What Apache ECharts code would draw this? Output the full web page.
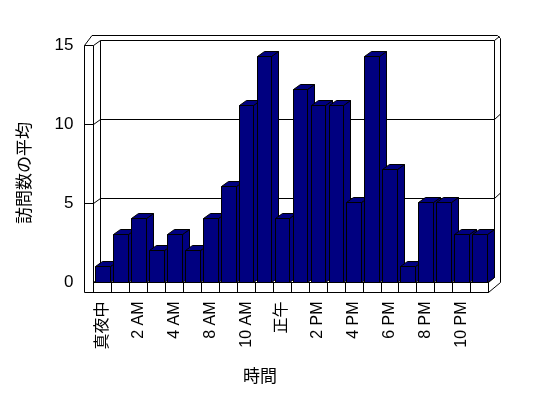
<!DOCTYPE html>
<html>
<head>
<meta charset="utf-8">
<script src="https://cdn.jsdelivr.net/npm/echarts@6/dist/echarts.min.js"></script>
<style>
html, body { margin: 0; padding: 0; background: #fff; }
#chart { width: 548px; height: 398px; }
</style>
</head>
<body>
<div id="chart"></div>
<script>
// 時間帯（6 AM と 7 AM のデータは無し）
const hours = ['真夜中', '1 AM', '2 AM', '3 AM', '4 AM', '5 AM', '8 AM', '9 AM', '10 AM', '11 AM',
  '正午', '1 PM', '2 PM', '3 PM', '4 PM', '5 PM', '6 PM', '7 PM', '8 PM', '9 PM', '10 PM', '11 PM']
const visits = [1, 3, 4, 2, 3, 2, 4, 6, 11, 14, 4, 12, 11, 11, 5, 14, 7, 1, 5, 5, 3, 3]
const gridValues = [5, 10]

const font = "'Liberation Sans', 'Noto Sans CJK JP', sans-serif"
const navy = '#000080'

// 3D の枠（壁と床）の位置
const F = { fl: 84.5, fli: 93.5, fr: 488.5, fy: 282.5, fb: 292.5, ft: 45.5, bl: 100.5, br: 494.5, bt: 40.5, by: 277.5, ot: 35.5, or: 500.5 }
const line = { stroke: '#000', lineWidth: 1, fill: null }
const face = { stroke: '#000', lineWidth: 1, fill: '#fff' }

const frame = [
  { type: 'polygon', z: -1, shape: { points: [[F.fl, F.ft], [92, F.ot], [497.5, F.ot], [F.or, 38.5], [F.or, F.fy], [F.fr, F.fb], [F.fl, F.fb]] }, style: face },
  { type: 'polygon', z: -1, shape: { points: [[F.bl, F.bt], [F.br, F.bt], [F.br, F.by], [F.bl, F.by]] }, style: line },
  { type: 'polyline', z: -1, shape: { points: [[F.fl, F.ft], [F.fli, F.ft], [F.fli, F.fy], [F.fr, F.fy], [F.fr, F.fb]] }, style: line },
  { type: 'polyline', z: -1, shape: { points: [[F.fli, F.ft], [F.bl, F.bt]] }, style: line },
  { type: 'polyline', z: -1, shape: { points: [[F.fli, F.fy], [F.bl, F.by]] }, style: line },
  { type: 'polyline', z: -1, shape: { points: [[F.fr, F.fy], [F.br, F.by]] }, style: line },
  { type: 'polyline', z: -1, shape: { points: [[F.br, F.bt], [499.5, 36.5]] }, style: line }
]

// 壁の目盛線（左壁 → 奥の壁 → 右の縁）
const renderGridLine = function (params, api) {
  const y = Math.round(api.coord([0, api.value(1)])[1] - 0.5) + 0.5
  return {
    type: 'polyline',
    shape: { points: [[F.fl, y], [F.fli, y], [F.bl, y - 5], [F.br, y - 5], [F.or, y - 10.5]] },
    style: line
  }
}

// 立体の棒
const renderBar = function (params, api) {
  const i = api.value(0)
  const top = api.coord([i, api.value(1)])
  const base = api.coord([i, 0])
  const w = api.size([1, 0])[0] * 0.82
  const x0 = Math.round(top[0] - w / 2) + 0.5
  const x1 = Math.round(top[0] + w / 2) + 0.5
  const y0 = Math.round(top[1]) + 0.5
  const y1 = Math.round(base[1] - 0.5) + 0.5
  const dx = 7
  const dy = -5
  const style = { fill: navy, stroke: '#000', lineWidth: 1 }
  return {
    type: 'group',
    children: [
      { type: 'polygon', shape: { points: [[x1, y0], [x1 + dx, y0 + dy], [x1 + dx, y1 + dy], [x1, y1]] }, style },
      { type: 'polygon', shape: { points: [[x0, y0], [x0 + dx, y0 + dy], [x1 + dx, y0 + dy], [x1, y0]] }, style },
      { type: 'rect', shape: { x: x0, y: y0, width: x1 - x0, height: y1 - y0 }, style }
    ]
  }
}

const chart = echarts.init(document.getElementById('chart'))
const option = {
  backgroundColor: '#fff',
  animation: false,
  textStyle: { fontFamily: font },
  grid: [
    { left: F.fl, top: F.ft, width: F.fli - F.fl, bottom: 398 - F.fy, outerBoundsMode: 'none', containLabel: false },
    { left: F.fli, right: 548 - F.fr, top: 40, bottom: 398 - F.fy, outerBoundsMode: 'none', containLabel: false }
  ],
  xAxis: [
    { gridIndex: 0, type: 'value', min: 0, max: 1, show: false },
    {
      gridIndex: 1,
      type: 'category',
      data: hours,
      z: 3,
      axisLine: { show: true, lineStyle: { color: '#000', width: 1 } },
      axisTick: { show: true, interval: 0, length: 10, lineStyle: { color: '#000', width: 1 } },
      axisLabel: { interval: 1, rotate: 90, margin: 19, fontSize: 16, color: '#000', fontFamily: font }
    }
  ],
  yAxis: [
    {
      gridIndex: 0,
      type: 'value',
      min: 0,
      max: 15,
      interval: 5,
      axisLine: { show: false },
      axisTick: { show: false },
      splitLine: { show: false },
      axisLabel: { margin: 11, fontSize: 17, color: '#000', fontFamily: font }
    },
    { gridIndex: 1, type: 'value', min: 0, max: 15, show: false, splitLine: { show: false } }
  ],
  graphic: {
    elements: frame.concat([
      { type: 'text', x: 25, y: 173, rotation: Math.PI / 2, style: { text: '訪問数の平均', fontSize: 17, fontFamily: font, fill: '#000', align: 'center', verticalAlign: 'middle' } },
      { type: 'text', x: 260, y: 377, style: { text: '時間', fontSize: 17, fontFamily: font, fill: '#000', align: 'center', verticalAlign: 'middle' } }
    ])
  },
  series: [
    {
      type: 'custom',
      xAxisIndex: 0,
      yAxisIndex: 0,
      renderItem: renderGridLine,
      data: gridValues.map((v) => [0, v]),
      silent: true
    },
    {
      type: 'custom',
      xAxisIndex: 1,
      yAxisIndex: 1,
      renderItem: renderBar,
      data: visits.map((v, i) => [i, v])
    }
  ]
}
chart.setOption(option)
</script>
</body>
</html>
